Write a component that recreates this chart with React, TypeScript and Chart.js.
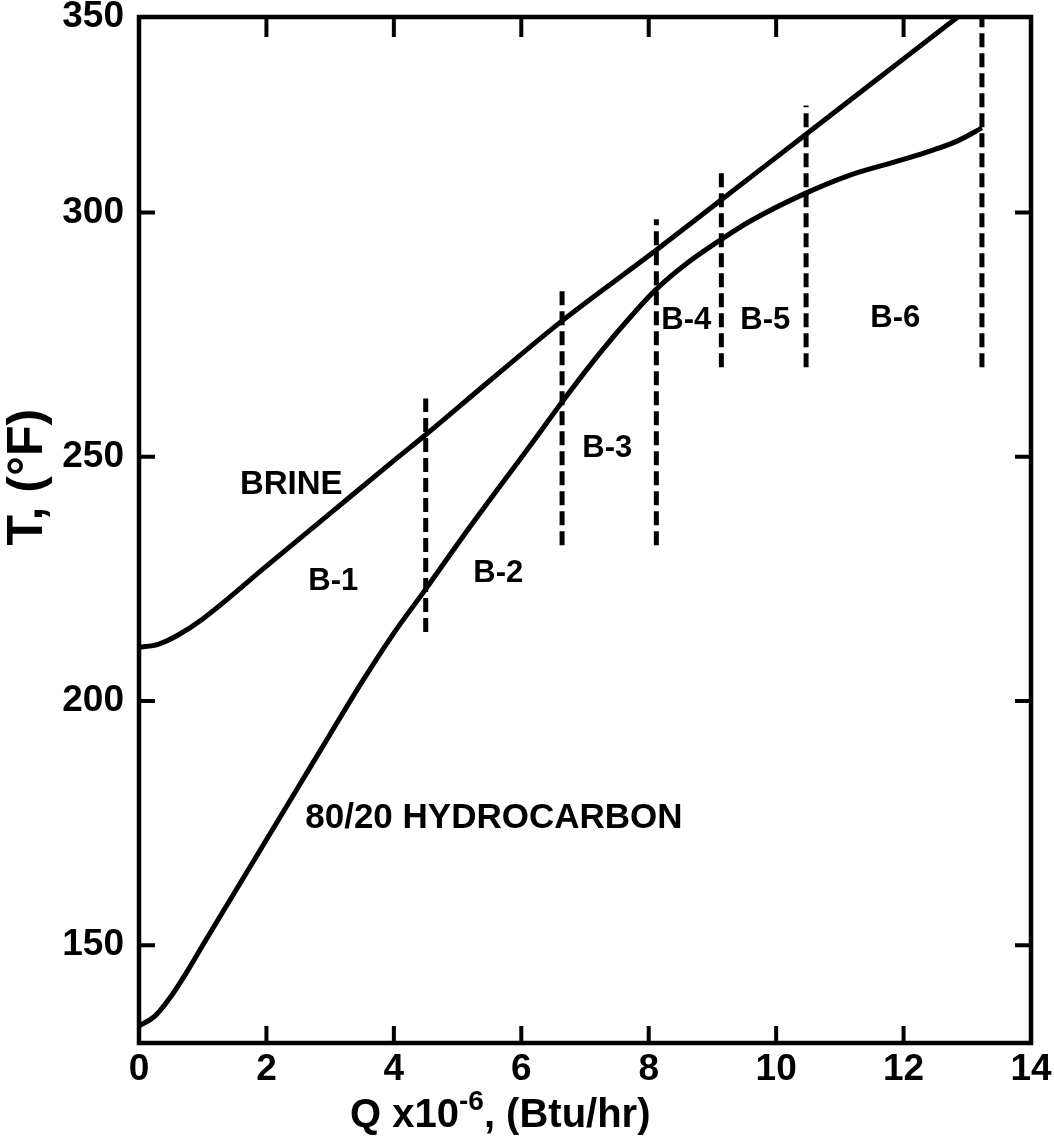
import React, { useEffect, useRef } from 'react';
import { Chart, registerables } from 'chart.js';

Chart.register(...registerables);

// ---- data ----
const brineQ = [0, 0.3, 0.6, 1, 2, 3, 4, 4.5, 5.5, 6.64, 8.12, 9.14, 10.47, 11.6, 12.84, 13.1];
const brineT = [211, 211.6, 213.4, 216.8, 227.6, 238.4, 249.2, 254.5, 265.5, 277.8, 292.3, 302.6, 316, 327.4, 339.9, 342.5];

const hydroQ = [0, 0.25, 0.5, 0.75, 1, 1.5, 2, 2.5, 3, 3.5, 4, 4.5, 5.13, 5.65, 6.17, 6.64, 7.22, 7.74, 8.12, 8.6, 9.14, 9.59, 10.44, 11.15, 11.93, 12.45, 12.84, 13.23];
const hydroT = [133.5, 135.5, 139.5, 144.5, 150, 160.8, 171.6, 182.4, 193.2, 203.9, 213.9, 222.9, 234.5, 243.7, 252.8, 261.2, 271, 279, 284.3, 289.6, 294.5, 298.2, 303.8, 307.6, 310.6, 312.7, 314.6, 317.3];

const boundaryQ = [4.5, 6.64, 8.12, 9.14, 10.47, 13.23];
const boundaryTop = [261.9, 284.0, 298.6, 309.0, 321.9, 340];
const boundaryBottom = [214.1, 231.9, 231.9, 268.3, 268.3, 268.3];

const xTickValues = [0, 2, 4, 6, 8, 10, 12, 14];
const yTickValues = [150, 200, 250, 300, 340];
const yTickLabels = ['150', '200', '250', '300', '350'];

const noteTexts = ['BRINE', 'B-1', 'B-2', 'B-3', 'B-4', 'B-5', 'B-6', '80/20 HYDROCARBON'];
const noteQ = [2.39, 3.05, 5.64, 7.35, 8.59, 9.83, 11.87, 5.57];
const noteT = [244.3, 224.5, 226.1, 251.7, 277.9, 277.9, 278.3, 176];

const xTitleMain = 'Q x10';
const xTitleSup = '-6';
const xTitleTail = ', (Btu/hr)';
const yTitle = 'T, (\u00B0F)';

const FONT = '"Liberation Sans", Arial, sans-serif';

const framePlugin = {
  id: 'frame',
  afterDatasetsDraw(chart: any) {
    const { ctx, chartArea: a, scales } = chart;
    const xs = scales.x;
    const ys = scales.y;
    ctx.save();
    ctx.strokeStyle = '#000';
    ctx.fillStyle = '#000';
    ctx.lineWidth = 4.5;
    ctx.strokeRect(a.left, a.top, a.right - a.left, a.bottom - a.top);
    ctx.lineWidth = 4;
    ctx.beginPath();
    for (const v of xTickValues) {
      if (v <= xs.min || v >= xs.max) continue;
      const px = xs.getPixelForValue(v);
      ctx.moveTo(px, a.bottom);
      ctx.lineTo(px, a.bottom - 17);
      ctx.moveTo(px, a.top);
      ctx.lineTo(px, a.top + 20);
    }
    for (const v of yTickValues) {
      if (v <= ys.min || v >= ys.max) continue;
      const py = ys.getPixelForValue(v);
      ctx.moveTo(a.left, py);
      ctx.lineTo(a.left + 16, py);
      ctx.moveTo(a.right, py);
      ctx.lineTo(a.right - 16, py);
    }
    ctx.stroke();

    // in-plot notes
    ctx.textAlign = 'center';
    ctx.textBaseline = 'middle';
    noteTexts.forEach((t, i) => {
      const size = t === 'BRINE' ? 33 : t.startsWith('B-') ? 31 : 35;
      ctx.font = `bold ${size}px ${FONT}`;
      ctx.fillText(t, xs.getPixelForValue(noteQ[i]), ys.getPixelForValue(noteT[i]));
    });

    // x title with superscript
    const big = `bold 40px ${FONT}`;
    const small = `bold 28px ${FONT}`;
    ctx.textAlign = 'left';
    ctx.textBaseline = 'alphabetic';
    ctx.font = big;
    const w1 = ctx.measureText(xTitleMain).width;
    const w3 = ctx.measureText(xTitleTail).width;
    ctx.font = small;
    const w2 = ctx.measureText(xTitleSup).width;
    const total = w1 + w2 + w3;
    const cx = a.left + (a.right - a.left) * 0.405;
    let sx = cx - total / 2;
    const base = 1127;
    ctx.font = big;
    ctx.fillText(xTitleMain, sx, base);
    sx += w1;
    ctx.font = small;
    ctx.fillText(xTitleSup, sx, base - 17);
    sx += w2;
    ctx.font = big;
    ctx.fillText(xTitleTail, sx, base);

    // y title
    ctx.save();
    ctx.translate(28, ys.getPixelForValue(245.8));
    ctx.rotate(-Math.PI / 2);
    ctx.textAlign = 'center';
    ctx.textBaseline = 'middle';
    ctx.font = `bold 50px ${FONT}`;
    ctx.fillText(yTitle, 0, 0);
    ctx.restore();

    ctx.restore();
  },
};

export default function App() {
  const ref = useRef<HTMLCanvasElement>(null);
  useEffect(() => {
    if (!ref.current) return;
    const solid = { borderColor: '#000', borderWidth: 5, pointRadius: 0, cubicInterpolationMode: 'monotone' as const, fill: false };
    const dashed = boundaryQ.map((q, i) => ({
      data: [{ x: q, y: boundaryBottom[i] }, { x: q, y: boundaryTop[i] }],
      borderColor: '#000',
      borderWidth: 5,
      borderDash: [14, 6],
      pointRadius: 0,
      fill: false,
    }));
    const chart = new Chart(ref.current, {
      type: 'line',
      data: {
        datasets: [
          { ...solid, label: 'Brine', data: brineQ.map((q, i) => ({ x: q, y: brineT[i] })) },
          { ...solid, label: '80/20 Hydrocarbon', data: hydroQ.map((q, i) => ({ x: q, y: hydroT[i] })) },
          ...dashed,
        ] as any,
      },
      options: {
        animation: false,
        responsive: true,
        maintainAspectRatio: false,
        layout: { padding: { top: 17, right: 23, left: 0, bottom: 0 } },
        plugins: { legend: { display: false }, tooltip: { enabled: false } },
        scales: {
          x: {
            type: 'linear',
            min: 0,
            max: 14,
            afterBuildTicks: (s: any) => { s.ticks = xTickValues.map((v) => ({ value: v })); },
            afterFit: (s: any) => { s.height = 100; s.paddingLeft = 0; s.paddingRight = 0; },
            grid: { display: false },
            border: { display: false },
            ticks: { color: '#000', padding: -3, maxRotation: 0, autoSkip: false, font: { family: FONT, size: 37, weight: 'bold' } },
          },
          y: {
            type: 'linear',
            min: 130,
            max: 340,
            afterBuildTicks: (s: any) => { s.ticks = yTickValues.map((v) => ({ value: v })); },
            afterFit: (s: any) => { s.width = 139; s.paddingTop = 0; s.paddingBottom = 0; },
            grid: { display: false },
            border: { display: false },
            ticks: {
              color: '#000',
              padding: 7,
              autoSkip: false,
              font: { family: FONT, size: 37, weight: 'bold' },
              callback: (_v: any, i: number) => yTickLabels[i],
            },
          },
        },
      },
      plugins: [framePlugin],
    });
    return () => chart.destroy();
  }, []);
  return (
    <div style={{ position: 'absolute', left: 0, top: 0, width: 1054, height: 1143, background: '#fff' }}>
      <canvas ref={ref} />
    </div>
  );
}
